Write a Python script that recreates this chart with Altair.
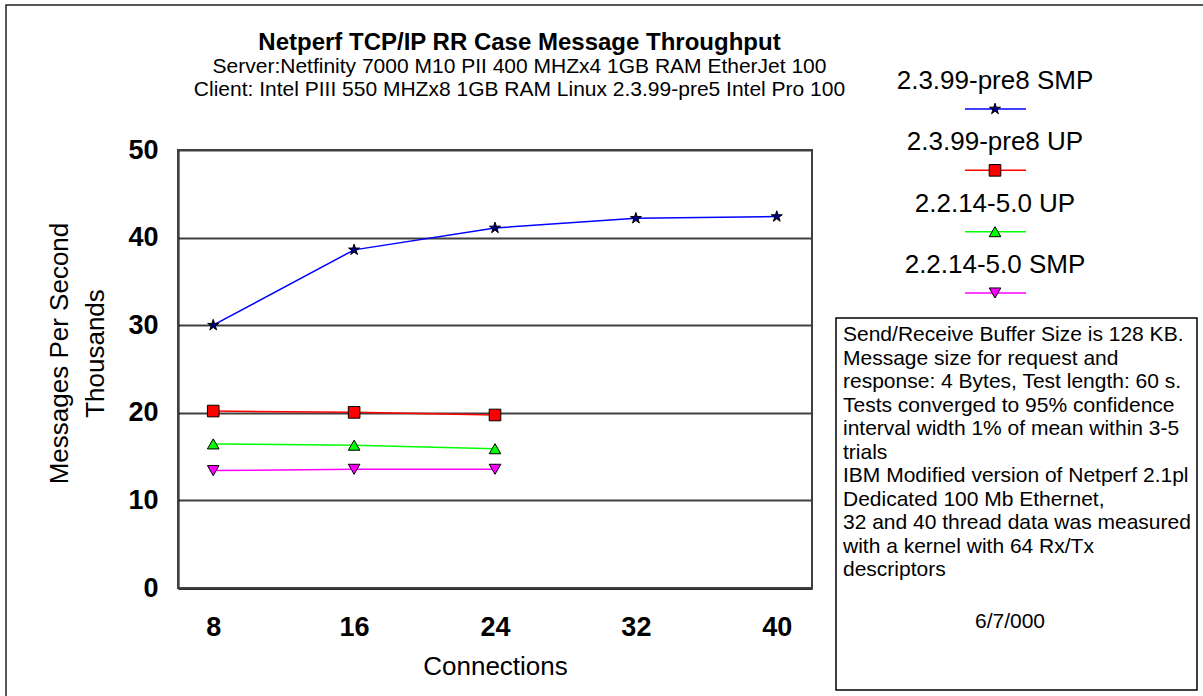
import altair as alt
import pandas as pd

# ---------------- data ----------------
CONNECTIONS = [8, 16, 24, 32, 40]
SERIES = ["2.3.99-pre8 SMP", "2.3.99-pre8 UP", "2.2.14-5.0 UP", "2.2.14-5.0 SMP"]
SMP_2399 = [30.0, 38.6, 41.1, 42.2, 42.4]
UP_2399 = [20.2, 20.05, 19.75]
UP_2214 = [16.45, 16.3, 15.9]
SMP_2214 = [13.4, 13.55, 13.55]
Y_TICKS = [0, 10, 20, 30, 40, 50]

LINE_COLORS = ["#0000FF", "#FF0000", "#00FF00", "#FF00FF"]
MARKER_FILLS = ["#000080", "#FF0000", "#00FF00", "#FF00FF"]
STAR = ("M0,-1L0.2245,-0.309L0.951,-0.309L0.363,0.118L0.588,0.809L0,0.382"
        "L-0.588,0.809L-0.363,0.118L-0.951,-0.309L-0.2245,-0.309Z")
SHAPES = [STAR, "square", "triangle-up", "triangle-down"]

TITLE = "Netperf TCP/IP RR Case Message Throughput"
SUBTITLE = ["Server:Netfinity 7000 M10 PII 400 MHZx4 1GB RAM EtherJet 100",
            "Client: Intel PIII 550 MHZx8 1GB RAM Linux 2.3.99-pre5 Intel Pro 100"]
NOTE_LINES = ["Send/Receive Buffer Size is 128 KB.",
              "Message size for request and",
              "response: 4 Bytes, Test length: 60 s.",
              "Tests converged to 95% confidence",
              "interval width 1% of mean within 3-5",
              "trials",
              "IBM Modified version of Netperf 2.1pl3",
              "Dedicated 100 Mb Ethernet,",
              "32 and 40 thread data was measured",
              "with a kernel with 64 Rx/Tx",
              "descriptors"]
DATE = "6/7/000"

FONT = "Liberation Sans"

values = [SMP_2399, UP_2399, UP_2214, SMP_2214]
rows = []
for s, vals in zip(SERIES, values):
    for c, v in zip(CONNECTIONS, vals):
        rows.append({"series": s, "conn": c, "value": v})
df = pd.DataFrame(rows)

# ---------------- scales ----------------
x_scale = alt.Scale(domain=[6, 42], range=[172, 806], nice=False, zero=False)
y_scale = alt.Scale(domain=[0, 50], range=[583, 145], nice=False, zero=False)
color_scale = alt.Scale(domain=SERIES, range=LINE_COLORS)
fill_scale = alt.Scale(domain=SERIES, range=MARKER_FILLS)
shape_scale = alt.Scale(domain=SERIES, range=SHAPES)

y_axis = alt.Axis(
    values=Y_TICKS, orient="left", offset=-172, domain=True, domainColor="black",
    domainWidth=2, ticks=False, tickSize=0, labelPadding=20, labelFontSize=27,
    labelFontWeight="bold", labelColor="black", labelFont=FONT,
    grid=True, gridColor="#404040", gridWidth=2,
    title=["Messages Per Second", "Thousands"], titleFontSize=26,
    titleFontWeight="normal", titleColor="black", titleFont=FONT,
    titleLineHeight=36, titlePadding=19, titleY=348,
)
x_axis = alt.Axis(
    values=CONNECTIONS, orient="bottom", offset=-108, domain=True,
    domainColor="black", domainWidth=2.5, ticks=False, tickSize=0,
    labelPadding=26, labelFontSize=27, labelFontWeight="bold",
    labelColor="black", labelFont=FONT, grid=False, format="d",
    title="Connections", titleFontSize=26, titleFontWeight="normal",
    titleColor="black", titleFont=FONT, titlePadding=13,
)

base = alt.Chart(df)

lines = base.mark_line(strokeWidth=1.5).encode(
    x=alt.X("conn:Q", scale=x_scale, axis=x_axis),
    y=alt.Y("value:Q", scale=y_scale, axis=y_axis),
    color=alt.Color("series:N", scale=color_scale, legend=None),
    detail="series:N",
)

points = base.mark_point(size=135, stroke="black", strokeWidth=1,
                         opacity=1, fillOpacity=1).encode(
    x=alt.X("conn:Q", scale=x_scale),
    y=alt.Y("value:Q", scale=y_scale),
    fill=alt.Fill("series:N", scale=fill_scale, legend=None),
    shape=alt.Shape("series:N", scale=shape_scale, legend=None),
)

frame_df = pd.DataFrame({"k": [0]})
plot_box = alt.Chart(frame_df).mark_rect(
    fillOpacity=0, stroke="#404040", strokeWidth=2
).encode(
    x=alt.X(datum=6, scale=x_scale),
    x2=alt.X2(datum=42),
    y=alt.Y(datum=0, scale=y_scale),
    y2=alt.Y2(datum=50),
)

main = alt.layer(plot_box, lines, points)

# ---------------- custom legend (label above a line sample) ----------------
leg_df = pd.DataFrame({"series": SERIES})
leg_y = alt.Y("series:N",
              scale=alt.Scale(type="point", domain=SERIES, range=[104, 288], padding=0),
              axis=None)
leg_base = alt.Chart(leg_df)
leg_text = leg_base.mark_text(fontSize=26, font=FONT, color="black",
                              align="center", baseline="middle", dy=-28).encode(
    x=alt.value(989), y=leg_y, text="series:N")
leg_rule = leg_base.mark_rule(strokeWidth=1.5).encode(
    x=alt.value(959), x2=alt.value(1020), y=leg_y,
    color=alt.Color("series:N", scale=color_scale, legend=None))
leg_pts = leg_base.mark_point(size=135, stroke="black", strokeWidth=1,
                              opacity=1, fillOpacity=1).encode(
    x=alt.value(989), y=leg_y,
    fill=alt.Fill("series:N", scale=fill_scale, legend=None),
    shape=alt.Shape("series:N", scale=shape_scale, legend=None))
legend = alt.layer(leg_text, leg_rule, leg_pts)

# ---------------- note box and outer frame ----------------
note_df = pd.DataFrame({"note": ["\n".join(NOTE_LINES)], "date": [DATE]})
outer_frame = alt.Chart(note_df).mark_rect(
    fillOpacity=0, stroke="#222222", strokeWidth=1.5
).encode(x=alt.value(0), x2=alt.value(1215), y=alt.value(0), y2=alt.value(710))
note_box = alt.Chart(note_df).mark_rect(
    fill="white", stroke="black", strokeWidth=1.5
).encode(x=alt.value(830), x2=alt.value(1191), y=alt.value(313), y2=alt.value(685))
note_text = alt.Chart(note_df).mark_text(
    align="left", baseline="top", fontSize=21, font=FONT, color="black",
    lineHeight=23.5, lineBreak="\n", limit=353, ellipsis="\u200b"
).encode(x=alt.value(837), y=alt.value(319), text="note:N")
date_text = alt.Chart(note_df).mark_text(
    align="center", baseline="middle", fontSize=21, font=FONT, color="black"
).encode(x=alt.value(1004), y=alt.value(617), text="date:N")

chart = alt.layer(outer_frame, main, legend, note_box, note_text, date_text).resolve_scale(
    y="independent"
).properties(
    width=1197, height=691,
    autosize=alt.AutoSizeParams(type="none"),
    padding={"left": 6, "top": 5, "right": 0, "bottom": 0},
    title=alt.TitleParams(
        text=TITLE, subtitle=SUBTITLE, font=FONT, fontSize=24, fontWeight="bold",
        color="black", subtitleFont=FONT, subtitleFontSize=21,
        subtitleColor="black", subtitleFontWeight="normal",
        subtitleLineHeight=23, subtitlePadding=1, anchor="middle",
        frame="group", dx=-85, dy=96, offset=0,
    ),
).configure(font=FONT, background="white").configure_view(
    stroke=None, strokeWidth=0
)

chart.save("out.html", embed_options={"renderer": "svg", "actions": False})
